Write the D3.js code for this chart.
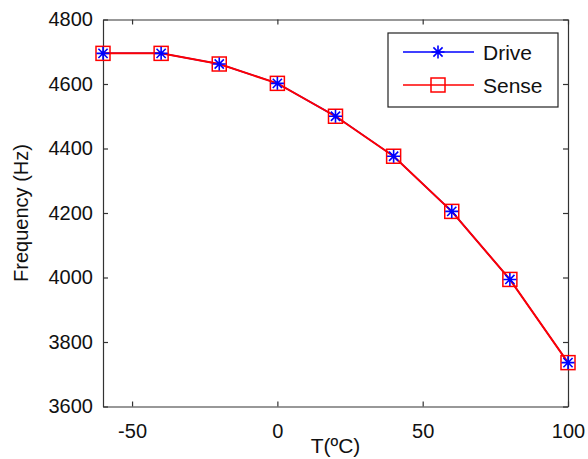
<!DOCTYPE html>
<html>
<head>
<meta charset="utf-8">
<script src="https://cdn.jsdelivr.net/npm/d3@7.9.0/dist/d3.min.js"></script>
<style>
  body { margin: 0; background: #fff; }
  svg { display: block; font-family: "Liberation Sans", Arial, sans-serif; }
  .axis text { font-size: 20px; fill: #111; font-family: "Liberation Sans", Arial, sans-serif; }
  .axis path, .axis line { stroke: #333; stroke-width: 1.2; }
</style>
</head>
<body>
<div id="chart"></div>
<script>
// temperatures (ºC) and resonant frequencies (Hz)
const temps = [-60, -40, -20, 0, 20, 40, 60, 80, 100];
const drive = [4695, 4695, 4662, 4602, 4500, 4376, 4205, 3994, 3736];
const sense = [4695, 4695, 4662, 4602, 4500, 4376, 4205, 3994, 3736];
const xTicks = [-50, 0, 50, 100];
const yTicks = [3600, 3800, 4000, 4200, 4400, 4600, 4800];
const seriesNames = ['Drive', 'Sense'];

const width = 588;
const height = 459;
const margin = { top: 19.5, right: 20, bottom: 52.5, left: 103 };

const usableArea = {
  top: margin.top,
  right: width - margin.right,
  bottom: height - margin.bottom,
  left: margin.left,
};

const svg = d3.select('#chart')
  .append('svg')
  .attr('width', width)
  .attr('height', height);

const xScale = d3.scaleLinear()
  .domain([-60, 100])
  .range([usableArea.left, usableArea.right]);

const yScale = d3.scaleLinear()
  .domain([3600, 4800])
  .range([usableArea.bottom, usableArea.top]);

// plain number labels, hyphen minus like matlab
const fmt = d => String(d);

// axes, ticks pointing inwards like matlab
svg.append('g')
  .attr('class', 'axis')
  .attr('transform', `translate(0,${usableArea.bottom})`)
  .call(d3.axisBottom(xScale).tickValues(xTicks).tickFormat(fmt).tickSizeInner(-5).tickSizeOuter(0).tickPadding(17));

svg.append('g')
  .attr('class', 'axis')
  .attr('transform', `translate(0,${usableArea.top})`)
  .call(d3.axisTop(xScale).tickValues(xTicks).tickFormat('').tickSizeInner(-5).tickSizeOuter(0));

svg.append('g')
  .attr('class', 'axis')
  .attr('transform', `translate(${usableArea.left},0)`)
  .call(d3.axisLeft(yScale).tickValues(yTicks).tickFormat(fmt).tickSizeInner(-5).tickSizeOuter(0).tickPadding(10));

svg.append('g')
  .attr('class', 'axis')
  .attr('transform', `translate(${usableArea.right},0)`)
  .call(d3.axisRight(yScale).tickValues(yTicks).tickFormat('').tickSizeInner(-5).tickSizeOuter(0));

svg.selectAll('.axis .domain').attr('stroke-width', 1.5);

// axis titles
svg.append('text')
  .attr('x', (usableArea.left + usableArea.right) / 2)
  .attr('y', 453)
  .attr('text-anchor', 'middle')
  .attr('font-size', 21)
  .attr('fill', '#111')
  .text('T(ºC)');

svg.append('text')
  .attr('transform', `translate(28,${(usableArea.top + usableArea.bottom) / 2}) rotate(-90)`)
  .attr('text-anchor', 'middle')
  .attr('font-size', 20)
  .attr('fill', '#111')
  .text('Frequency (Hz)');

const line = d3.line()
  .x((d, i) => xScale(temps[i]))
  .y(d => yScale(d));

function asterisk(g, s) {
  const r = s / 2;
  const d = r * Math.SQRT1_2;
  g.append('path')
    .attr('d', `M${-r},0H${r}M0,${-r}V${r}M${-d},${-d}L${d},${d}M${-d},${d}L${d},${-d}`)
    .attr('stroke', '#0000ff')
    .attr('stroke-width', 1.6)
    .attr('fill', 'none');
}

function square(g, s) {
  g.append('rect')
    .attr('x', -s / 2)
    .attr('y', -s / 2)
    .attr('width', s)
    .attr('height', s)
    .attr('fill', 'none')
    .attr('stroke', '#ff0000')
    .attr('stroke-width', 1.5);
}

// Drive series
svg.append('path')
  .datum(drive)
  .attr('d', line)
  .attr('fill', 'none')
  .attr('stroke', '#0000ff')
  .attr('stroke-width', 1.5);

// Sense series
svg.append('path')
  .datum(sense)
  .attr('d', line)
  .attr('fill', 'none')
  .attr('stroke', '#ff0000')
  .attr('stroke-width', 2);

svg.append('g').selectAll('g')
  .data(sense)
  .join('g')
  .attr('transform', (d, i) => `translate(${xScale(temps[i])},${yScale(d)})`)
  .each(function () { square(d3.select(this), 14); });

svg.append('g').selectAll('g')
  .data(drive)
  .join('g')
  .attr('transform', (d, i) => `translate(${xScale(temps[i])},${yScale(d)})`)
  .each(function () { asterisk(d3.select(this), 13); });

// Legend
const legend = svg.append('g').attr('transform', 'translate(388,33)');
legend.append('rect')
  .attr('width', 170)
  .attr('height', 74)
  .attr('fill', '#fff')
  .attr('stroke', '#222')
  .attr('stroke-width', 1.2);

seriesNames.forEach((name, i) => {
  const y = 19 + i * 33;
  const color = i === 0 ? '#0000ff' : '#ff0000';
  legend.append('line')
    .attr('x1', 15).attr('x2', 86)
    .attr('y1', y).attr('y2', y)
    .attr('stroke', color)
    .attr('stroke-width', 1.5);
  const m = legend.append('g').attr('transform', `translate(50,${y})`);
  if (i === 0) asterisk(m, 13); else square(m, 14);
  legend.append('text')
    .attr('x', 95)
    .attr('y', y + 7.5)
    .attr('font-size', 21)
    .attr('fill', '#111')
    .text(name);
});
</script>
</body>
</html>
